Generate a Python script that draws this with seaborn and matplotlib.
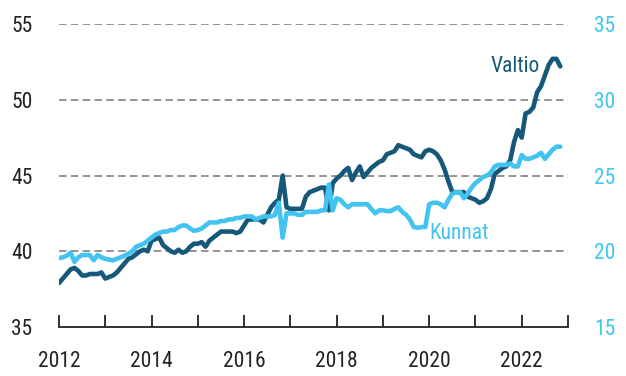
import numpy as np
import pandas as pd
import matplotlib
matplotlib.use("Agg")
import matplotlib.pyplot as plt
import seaborn as sns

# Monthly series, January 2012 onwards
start_year = 2012
valtio = [
    37.9, 38.2, 38.5, 38.8, 38.9, 38.7, 38.4, 38.4, 38.5, 38.5, 38.5, 38.6,
    38.2, 38.3, 38.4, 38.6, 38.9, 39.2, 39.5, 39.6, 39.8, 40.0, 40.1, 40.0,
    40.7, 40.8, 40.9, 40.4, 40.2, 40.0, 39.9, 40.1, 39.9, 40.0, 40.3, 40.5,
    40.5, 40.6, 40.3, 40.7, 40.9, 41.1, 41.3, 41.3, 41.3, 41.3, 41.2, 41.3,
    41.7, 42.1, 42.1, 42.1, 42.1, 41.9, 42.4, 42.9, 43.2, 43.4, 45.0, 42.9,
    42.8, 42.8, 42.8, 42.8, 43.6, 43.9, 44.0, 44.1, 44.2, 44.2, 42.7, 44.5,
    44.8, 45.0, 45.3, 45.5, 44.7, 45.2, 45.6, 44.9, 45.2, 45.5, 45.7, 45.9,
    46.0, 46.4, 46.5, 46.6, 47.0, 46.9, 46.8, 46.7, 46.4, 46.3, 46.2, 46.6,
    46.7, 46.6, 46.4, 46.0, 45.4, 44.6, 43.9, 43.9, 43.9, 43.9, 43.6, 43.5,
    43.4, 43.2, 43.3, 43.5, 44.1, 45.1, 45.3, 45.5, 45.6, 46.0, 47.2, 48.0,
    47.5, 49.1, 49.2, 49.5, 50.5, 50.9, 51.6, 52.3, 52.7, 52.7, 52.2,
]
kunnat = [
    19.55, 19.6, 19.7, 19.9, 19.3, 19.6, 19.75, 19.75, 19.75, 19.4, 19.75, 19.6,
    19.5, 19.45, 19.4, 19.5, 19.6, 19.7, 19.85, 20.0, 20.3, 20.4, 20.5, 20.7,
    20.9, 21.1, 21.2, 21.3, 21.3, 21.4, 21.4, 21.6, 21.7, 21.7, 21.5, 21.35,
    21.4, 21.5, 21.7, 21.9, 21.9, 21.9, 22.0, 22.0, 22.1, 22.1, 22.2, 22.2,
    22.3, 22.3, 22.3, 22.1, 22.2, 22.3, 22.3, 22.3, 22.4, 23.2, 20.9, 22.5,
    22.5, 22.5, 22.4, 22.4, 22.6, 22.6, 22.6, 22.6, 22.7, 22.7, 24.4, 22.7,
    23.5, 23.4, 23.1, 22.9, 23.1, 23.1, 23.1, 23.1, 23.1, 22.8, 22.5, 22.7,
    22.7, 22.65, 22.65, 22.8, 22.9, 22.6, 22.4, 22.1, 21.6, 21.55, 21.6, 21.6,
    23.1, 23.2, 23.2, 23.1, 22.9, 23.4, 23.8, 23.9, 23.9, 23.5, 23.8, 24.2,
    24.5, 24.7, 24.9, 25.0, 25.2, 25.6, 25.7, 25.7, 25.7, 25.8, 25.6, 25.6,
    26.35, 26.1, 26.1, 26.2, 26.3, 26.5, 26.1, 26.4, 26.7, 26.9, 26.9,
]
year_ticks = list(range(2012, 2023, 2))
left_ticks = [35, 40, 45, 50, 55]
right_ticks = [15, 20, 25, 30, 35]

dark = "#16587a"
light = "#43c3f0"
text_dark = "#222222"

df = pd.DataFrame({
    "t": start_year + np.arange(len(valtio)) / 12.0,
    "Valtio": valtio,
    "Kunnat": kunnat,
})

sns.set_theme(style="white")
plt.rcParams["font.family"] = ["Roboto Condensed", "DejaVu Sans"]
plt.rcParams["font.stretch"] = "condensed"

fig = plt.figure(figsize=(6.26, 3.76), dpi=100)
ax = fig.add_axes([59 / 626, 49 / 376, 509 / 626, 303 / 376])
ax2 = ax.twinx()

sns.lineplot(data=df, x="t", y="Valtio", ax=ax, color=dark, linewidth=3.3,
             solid_capstyle="round", solid_joinstyle="round")
sns.lineplot(data=df, x="t", y="Kunnat", ax=ax2, color=light, linewidth=3.3,
             solid_capstyle="round", solid_joinstyle="round")

ax.set_xlim(2012, 2023)
ax.set_ylim(35, 55)
ax2.set_ylim(15, 35)

# dashed horizontal guides
for v in left_ticks[1:]:
    ax.axhline(v, color="#808080", linewidth=1.2, linestyle=(0, (4.5, 2.6)), zorder=0)

for a in (ax, ax2):
    for s in ("top", "left", "right"):
        a.spines[s].set_visible(False)
    a.set_xlabel("")
    a.set_ylabel("")
ax2.spines["bottom"].set_visible(False)
ax.spines["bottom"].set_color(text_dark)
ax.spines["bottom"].set_linewidth(1.3)

fs = 15.5
ax.set_xticks(range(2012, 2024))
ax.set_xticklabels([str(y) if y in year_ticks else "" for y in range(2012, 2024)])
ax.tick_params(axis="x", direction="in", length=9, width=1.3, color=text_dark,
               labelsize=fs, labelcolor=text_dark, pad=17, bottom=True)
ax.set_yticks(left_ticks)
ax.set_yticklabels([str(v) for v in left_ticks])
ax.tick_params(axis="y", length=0, labelsize=fs, labelcolor=text_dark, pad=19)
ax2.set_yticks(right_ticks)
ax2.set_yticklabels([str(v) for v in right_ticks])
ax2.tick_params(axis="y", length=0, labelsize=fs, labelcolor=light, pad=19)

ax.text(2021.85, 52.2, "Valtio", color=dark, fontsize=fs, ha="center", va="center")
ax2.text(2020.64, 21.2, "Kunnat", color=light, fontsize=fs, ha="center", va="center")

fig.savefig("out.png", dpi=100)
